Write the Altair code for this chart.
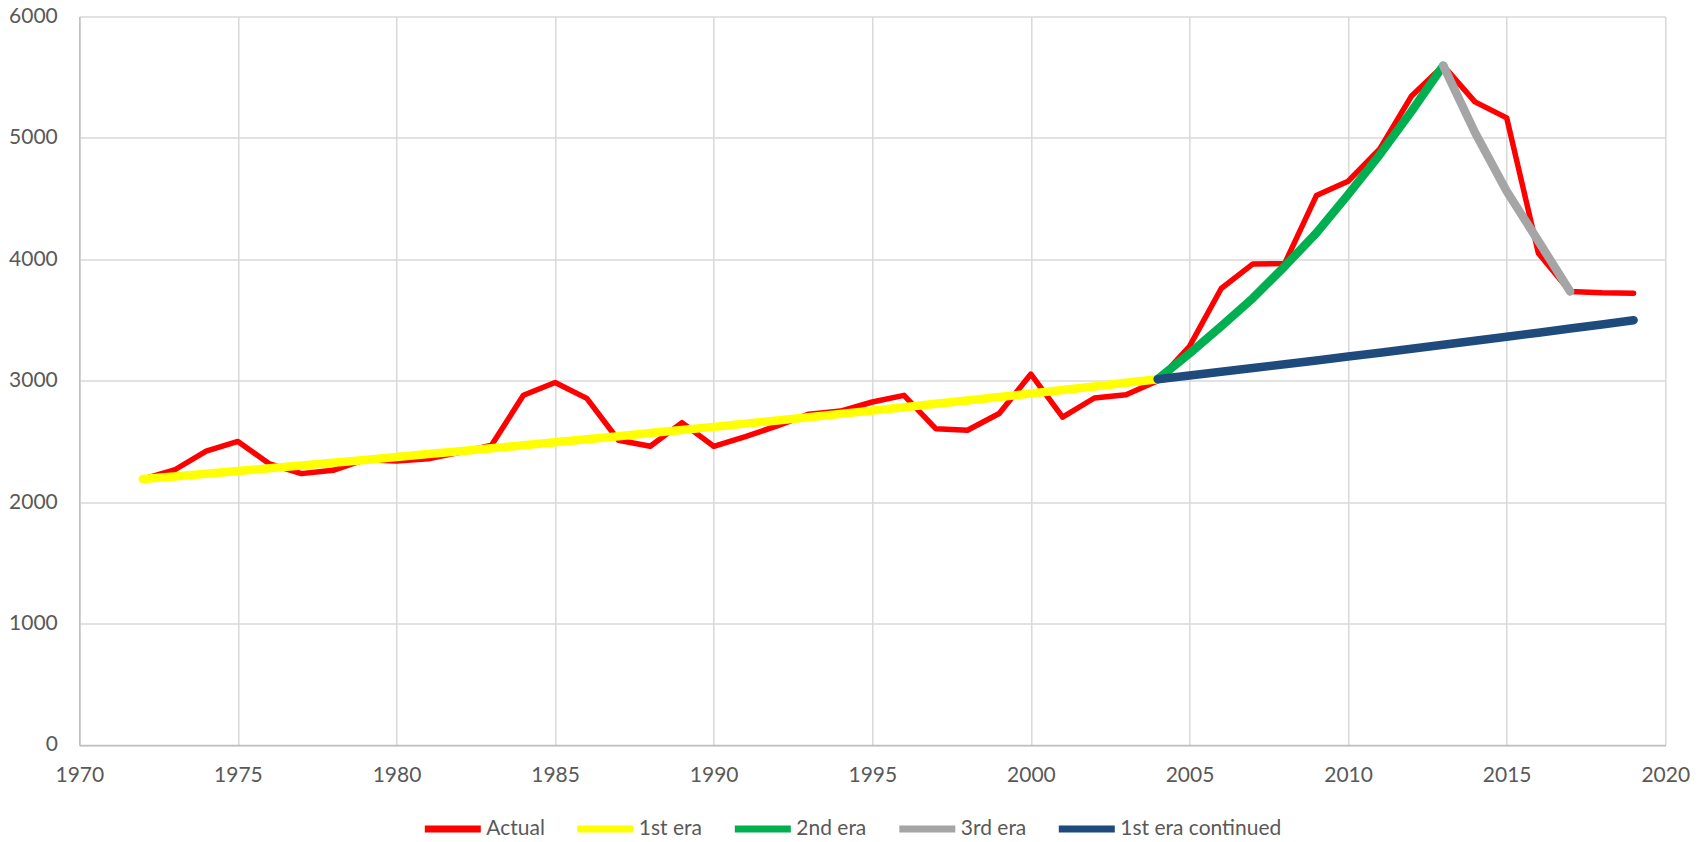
import altair as alt
import pandas as pd

# ---- data ----
years_actual = list(range(1972, 2020))
actual = [2190, 2265, 2420, 2500, 2315, 2235, 2262, 2350, 2340, 2358,
          2410, 2470, 2880, 2985, 2855, 2510, 2460, 2655, 2460, 2540,
          2628, 2725, 2750, 2825, 2880, 2605, 2592, 2730, 3055, 2700,
          2858, 2885, 3000, 3283, 3760, 3962, 3965, 4525, 4643, 4910,
          5345, 5595, 5297, 5165, 4050, 3735, 3724, 3720]

years_era1 = list(range(1972, 2005))
era1 = [2190, 2212, 2234, 2256, 2279, 2302, 2325, 2348, 2372, 2396,
        2420, 2444, 2468, 2493, 2518, 2543, 2569, 2594, 2620, 2647,
        2673, 2700, 2727, 2754, 2782, 2810, 2838, 2866, 2895, 2924,
        2953, 2983, 3013]

years_era2 = list(range(2004, 2014))
era2 = [3013, 3225, 3448, 3681, 3942, 4217, 4533, 4863, 5220, 5595]

years_era3 = list(range(2013, 2018))
era3 = [5595, 5045, 4560, 4150, 3735]

years_cont = list(range(2004, 2020))
cont = [3013, 3043, 3074, 3105, 3136, 3167, 3199, 3231, 3263, 3296,
        3329, 3362, 3396, 3430, 3464, 3499]

series_names = ["Actual", "1st era", "2nd era", "3rd era", "1st era continued"]
series_colors = ["#FF0000", "#FFFF00", "#00B050", "#A5A5A5", "#1F4A7C"]

x_ticks = list(range(1970, 2021, 5))
y_ticks = list(range(0, 6001, 1000))

# ---- build tables ----
def frame(years, vals, name):
    return pd.DataFrame({"year": years, "value": vals, "series": name})

df_actual = frame(years_actual, actual, series_names[0])
df_fits = pd.concat([
    frame(years_era1, era1, series_names[1]),
    frame(years_era2, era2, series_names[2]),
    frame(years_era3, era3, series_names[3]),
    frame(years_cont, cont, series_names[4]),
])

FONT = "Lato"
LABEL_COLOR = "#595959"

x_enc = alt.X("year:Q",
              scale=alt.Scale(domain=[1970, 2020], nice=False, zero=False),
              axis=alt.Axis(values=x_ticks, format="d", title=None,
                            labelPadding=31, labelBaseline="middle",
                            labelFlush=False))
y_enc = alt.Y("value:Q",
              scale=alt.Scale(domain=[0, 6000], nice=False),
              axis=alt.Axis(values=y_ticks, format="d", title=None,
                            labelPadding=22))

color_enc = alt.Color(
    "series:N",
    scale=alt.Scale(domain=series_names, range=series_colors),
    legend=alt.Legend(
        title=None, orient="none", direction="horizontal",
        legendX=342, legendY=781,
        symbolType="stroke", symbolSize=3136, symbolStrokeWidth=7,
        labelOffset=2, columnPadding=17.5, padding=0, gridAlign="none",
        labelLimit=0,
        labelFont=FONT, labelFontSize=21, labelColor=LABEL_COLOR,
    ),
)

line_actual = alt.Chart(df_actual).mark_line(
    strokeWidth=5.5, strokeCap="round", strokeJoin="round"
).encode(x=x_enc, y=y_enc, color=color_enc, detail="series:N")

line_fits = alt.Chart(df_fits).mark_line(
    strokeWidth=8.5, strokeCap="round", strokeJoin="round"
).encode(x=x_enc, y=y_enc, color=color_enc, detail="series:N")

chart = alt.layer(line_actual, line_fits).properties(
    width=1586, height=728.5,
    autosize=alt.AutoSizeParams(type="none"),
    padding={"left": 71.3, "top": 8.5, "right": 30, "bottom": 96},
).configure_view(stroke=None).configure_axis(
    domainColor="#BFBFBF", domainWidth=1.5,
    gridColor="#D9D9D9", gridWidth=1.5,
    ticks=False,
    labelFont=FONT, labelFontSize=21, labelColor=LABEL_COLOR,
)

chart.save("out.html", embed_options={"renderer": "svg", "actions": False})
